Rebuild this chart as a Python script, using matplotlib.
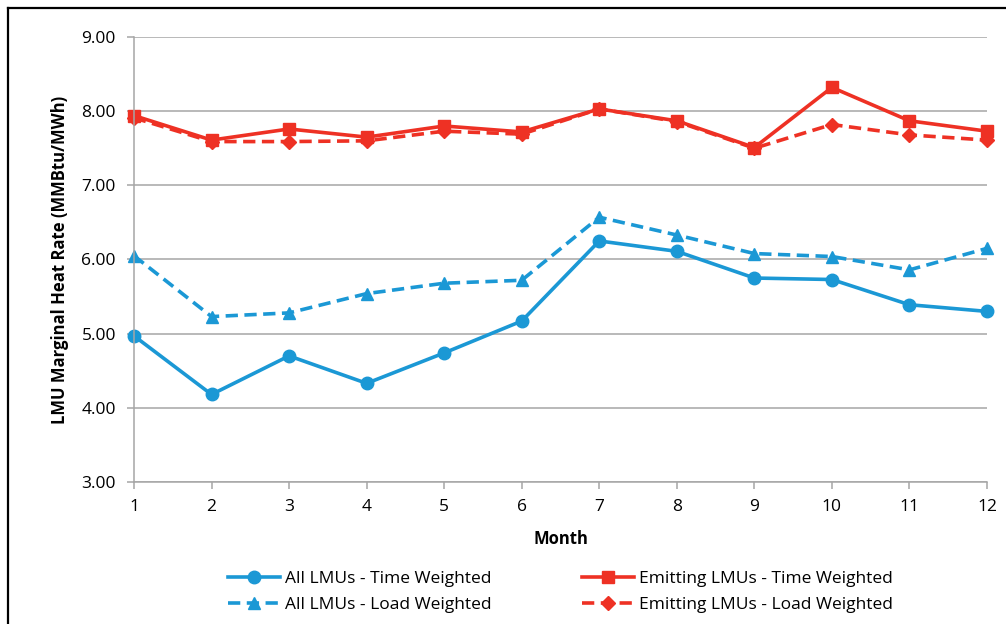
import matplotlib
matplotlib.use("Agg")
import matplotlib.pyplot as plt
from matplotlib.lines import Line2D

months = [1, 2, 3, 4, 5, 6, 7, 8, 9, 10, 11, 12]
all_time = [4.97, 4.18, 4.70, 4.33, 4.74, 5.17, 6.25, 6.11, 5.75, 5.73, 5.39, 5.30]
all_load = [6.05, 5.23, 5.28, 5.54, 5.68, 5.72, 6.57, 6.33, 6.08, 6.04, 5.86, 6.15]
emit_time = [7.94, 7.61, 7.76, 7.65, 7.80, 7.72, 8.03, 7.87, 7.51, 8.32, 7.87, 7.73]
emit_load = [7.91, 7.59, 7.59, 7.60, 7.73, 7.69, 8.03, 7.86, 7.50, 7.82, 7.68, 7.61]
y_ticks = [3.00, 4.00, 5.00, 6.00, 7.00, 8.00, 9.00]

blue = "#1B98D5"
red = "#EE3124"
grid = "#A6A6A6"

plt.rcParams["font.family"] = ["Open Sans", "DejaVu Sans"]

fig = plt.figure(figsize=(10.06, 6.24), dpi=100)
ax = fig.add_axes([0.1332, 0.2276, 0.8479, 0.7131])

ax.plot(months, all_time, color=blue, lw=2.6, marker="o", ms=9, clip_on=False,
        label="All LMUs - Time Weighted")
ax.plot(months, all_load, color=blue, lw=2.6, marker="^", ms=9, clip_on=False,
        dashes=(3.4, 1.8), label="All LMUs - Load Weighted")
ax.plot(months, emit_time, color=red, lw=2.6, marker="s", ms=9, clip_on=False,
        label="Emitting LMUs - Time Weighted")
ax.plot(months, emit_load, color=red, lw=2.6, marker="D", ms=7, clip_on=False,
        dashes=(3.4, 1.8), label="Emitting LMUs - Load Weighted")

ax.set_xlim(1, 12)
ax.set_ylim(3, 9)
ax.set_xticks(months)
ax.set_yticks(y_ticks)
ax.set_yticklabels(["%.2f" % v for v in y_ticks])
ax.yaxis.grid(True, color=grid, lw=1.1)
ax.set_axisbelow(True)
for s in ["top", "right"]:
    ax.spines[s].set_visible(False)
for s in ["left", "bottom"]:
    ax.spines[s].set_color(grid)
    ax.spines[s].set_linewidth(1.1)
ax.tick_params(axis="both", colors=grid, labelcolor="black", labelsize=12.5, length=5, width=1.1)
ax.tick_params(axis="x", pad=7)
ax.tick_params(axis="y", pad=8)

ax.set_xlabel("Month", fontsize=12, fontweight="bold", labelpad=11)
ax.set_ylabel("LMU Marginal Heat Rate (MMBtu/MWh)", fontsize=12, fontweight="bold", labelpad=9)

ax.legend(ncol=2, loc="upper center", bbox_to_anchor=(0.5, -0.165), frameon=False,
          fontsize=12.5, columnspacing=5.2, handlelength=3, handletextpad=0.3,
          labelspacing=0.55)

fig.add_artist(Line2D([8 / 1006, 8 / 1006], [0, 1 - 8 / 624], color="black", lw=1.6))
fig.add_artist(Line2D([8 / 1006, 1], [1 - 8 / 624, 1 - 8 / 624], color="black", lw=1.6))

fig.savefig("out.png", dpi=100)
